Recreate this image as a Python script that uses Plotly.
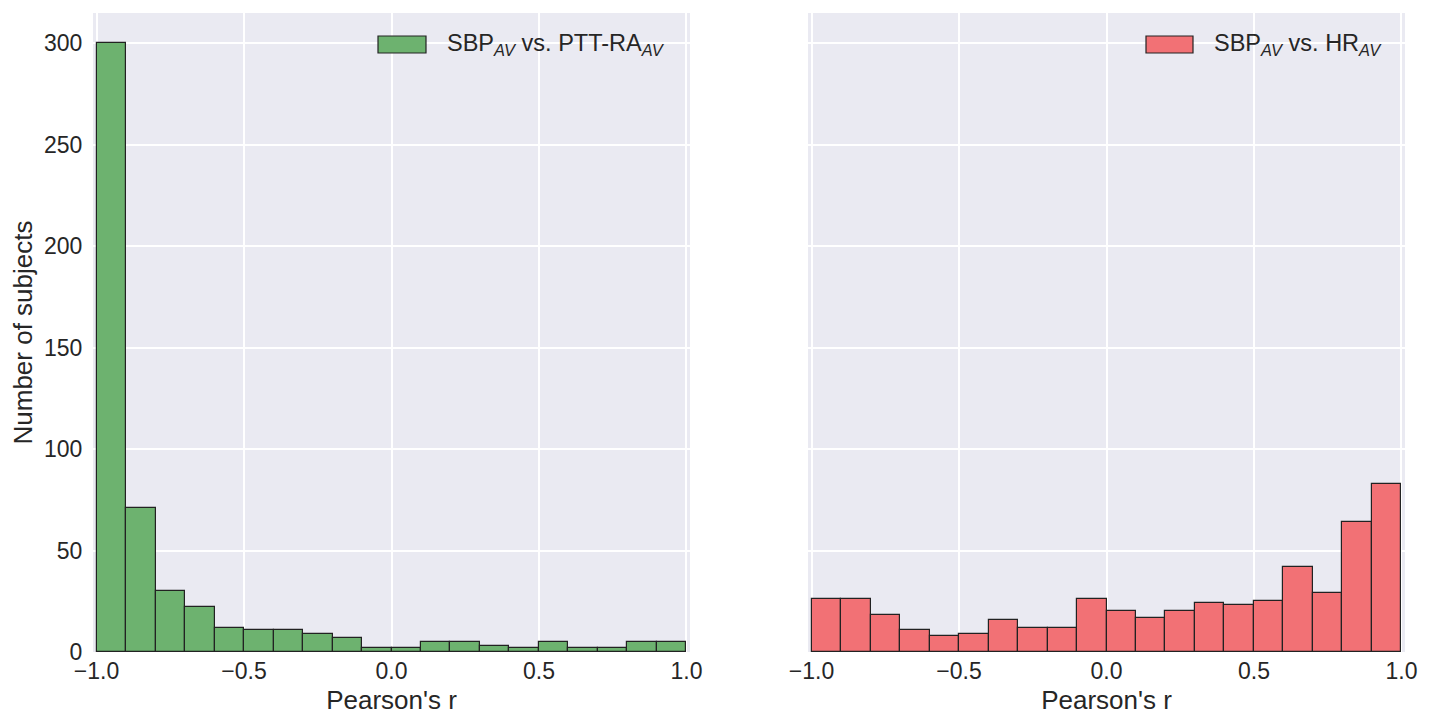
import plotly.graph_objects as go

bin_edges = [-1.0, -0.9, -0.8, -0.7, -0.6, -0.5, -0.4, -0.3, -0.2, -0.1, 0.0,
             0.1, 0.2, 0.3, 0.4, 0.5, 0.6, 0.7, 0.8, 0.9, 1.0]
counts_ptt = [300, 71, 30, 22, 12, 11, 11, 9, 7, 2, 2, 5, 5, 3, 2, 5, 2, 2, 5, 5]
counts_hr = [26, 26, 18, 11, 8, 9, 16, 12, 12, 26, 20, 17, 20, 24, 23, 25, 42, 29, 64, 83]
x_ticks = [-1.0, -0.5, 0.0, 0.5, 1.0]
x_tick_text = ["−1.0", "−0.5", "0.0", "0.5", "1.0"]
y_ticks = [0, 50, 100, 150, 200, 250, 300]
label_ptt = "SBP<sub><i>AV</i></sub> vs. PTT-RA<sub><i>AV</i></sub>"
label_hr = "SBP<sub><i>AV</i></sub> vs. HR<sub><i>AV</i></sub>"

green = "#6db26f"
red = "#f27175"
bg = "#EAEAF2"
txt = "#262626"
font_family = "Liberation Sans, Arial, sans-serif"

left_edges = bin_edges[:-1]
widths = [b - a for a, b in zip(bin_edges[:-1], bin_edges[1:])]

# page has an 8px body margin; figure sized to fit the window
OFF = 8
W, H = 1432 - OFF, 715 - OFF
# plot-area edges in page pixels
P_LEFT, P_RIGHT, P_TOP, P_BOTTOM = 93, 1405, 13, 652
ML, MR = P_LEFT - OFF, W - (P_RIGHT - OFF)
MT, MB = P_TOP - OFF, H - (P_BOTTOM - OFF)
PW, PH = W - ML - MR, H - MT - MB


def px(xpage):
    return (xpage - P_LEFT) / PW


def py(ypage):
    return (P_BOTTOM - ypage) / PH


fig = go.Figure()
fig.add_trace(go.Bar(x=left_edges, y=counts_ptt, width=widths, offset=0,
                     marker=dict(color=green, line=dict(color="#222222", width=1.2)),
                     xaxis="x", yaxis="y", showlegend=False, name="SBP vs. PTT-RA"))
fig.add_trace(go.Bar(x=left_edges, y=counts_hr, width=widths, offset=0,
                     marker=dict(color=red, line=dict(color="#222222", width=1.2)),
                     xaxis="x2", yaxis="y2", showlegend=False, name="SBP vs. HR"))

xr = [-1.012, 1.012]
common_x = dict(range=xr, tickvals=x_ticks, ticktext=x_tick_text, automargin=False,
                showgrid=True, gridcolor="white", gridwidth=1.6, zeroline=False,
                ticks="", ticklabelstandoff=3, tickfont=dict(size=23, color=txt), showline=False,
                title=dict(text="Pearson's r", font=dict(size=26, color=txt), standoff=7))
common_y = dict(range=[0, 315], tickvals=y_ticks, showgrid=True, gridcolor="white",
                gridwidth=1.6, zeroline=False, showline=False, automargin=False)

fig.update_layout(
    width=W, height=H,
    margin=dict(l=ML, r=MR, t=MT, b=MB),
    paper_bgcolor="white", plot_bgcolor=bg,
    font=dict(family=font_family, color=txt),
    bargap=0,
    xaxis=dict(domain=[px(93), px(690)], anchor="y", **common_x),
    xaxis2=dict(domain=[px(808), px(1405)], anchor="y2", **common_x),
    yaxis=dict(domain=[0, 1], anchor="x", ticks="outside", ticklen=5, tickcolor="rgba(0,0,0,0)",
               tickfont=dict(size=23, color=txt),
               title=dict(text="Number of subjects", font=dict(size=26, color=txt), standoff=4),
               **common_y),
    yaxis2=dict(domain=[0, 1], anchor="x2", showticklabels=False, **common_y),
)

# legends drawn as patch + text inside each panel
for x0, x1, tx, label, col in [(378, 426, 445, label_ptt, green), (1146, 1193, 1212, label_hr, red)]:
    fig.add_shape(type="rect", xref="paper", yref="paper",
                  x0=px(x0), x1=px(x1), y0=py(53), y1=py(36),
                  fillcolor=col, line=dict(color="#222222", width=1.2))
    fig.add_annotation(xref="paper", yref="paper", x=px(tx), y=py(45),
                       xanchor="left", yanchor="middle", showarrow=False, text=label,
                       font=dict(size=23.5, color=txt, family=font_family))

fig.write_html("out.html")
